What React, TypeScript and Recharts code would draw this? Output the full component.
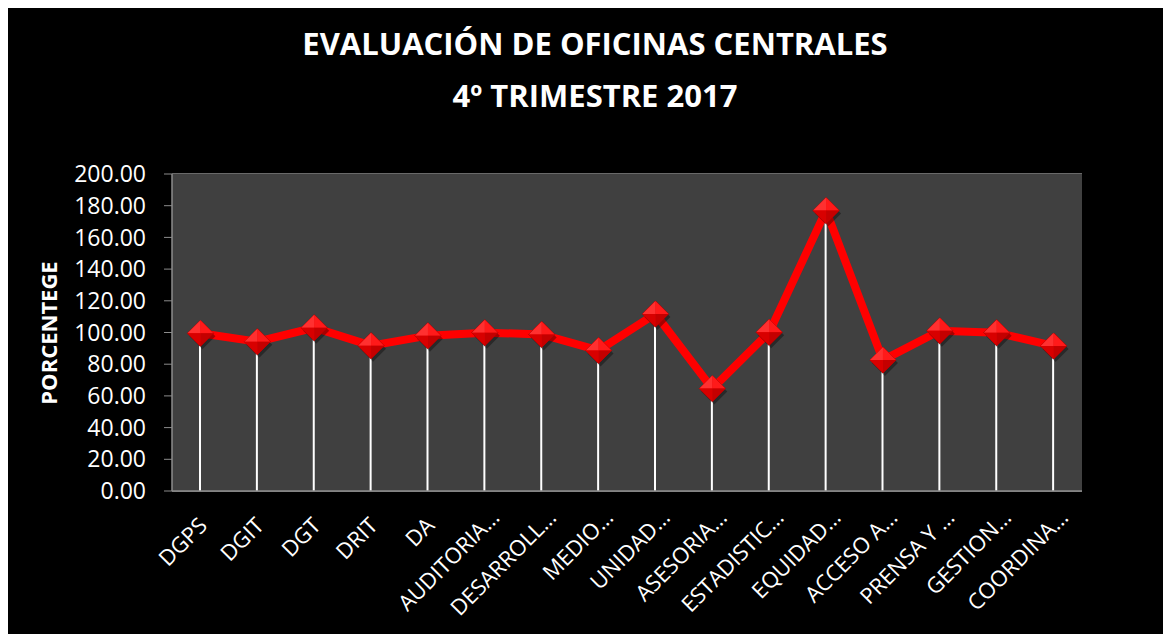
import { ComposedChart, Line, Bar, XAxis, YAxis, CartesianGrid } from 'recharts';

const categories = [
  'DGPS', 'DGIT', 'DGT', 'DRIT', 'DA', 'AUDITORIA…', 'DESARROLL…', 'MEDIO…',
  'UNIDAD…', 'ASESORIA…', 'ESTADISTIC…', 'EQUIDAD…', 'ACCESO A…', 'PRENSA Y …', 'GESTION…', 'COORDINA…',
];
const scores = [99.5, 94.2, 103, 91.7, 98, 99.9, 98.8, 88.7, 111.7, 64.6, 100.1, 176.9, 82.6, 101.1, 99.9, 91.5];
const yTicks = [0, 20, 40, 60, 80, 100, 120, 140, 160, 180, 200];

const FONT = '"Open Sans", "Noto Sans", sans-serif';

const data = categories.map((name, i) => ({ name, value: scores[i] }));

function Diamond(props: any) {
  const { cx, cy } = props;
  if (cx == null || cy == null) return null;
  const r = 13;
  return (
    <g>
      <polygon points={`${cx + 2},${cy - r + 3} ${cx + r + 2},${cy + 3} ${cx + 2},${cy + r + 3} ${cx - r + 2},${cy + 3}`} fill="rgba(0,0,0,0.35)" />
      <polygon points={`${cx},${cy - r} ${cx + r},${cy} ${cx},${cy + r} ${cx - r},${cy}`} fill="#e00000" stroke="#b00000" strokeWidth={1} />
      <polygon points={`${cx},${cy - r} ${cx + r},${cy} ${cx},${cy} `} fill="#ff1a1a" />
      <polygon points={`${cx},${cy - r} ${cx - r},${cy} ${cx},${cy}`} fill="#ff3030" />
      <polygon points={`${cx - r},${cy} ${cx},${cy + r} ${cx},${cy}`} fill="#d80000" />
      <polygon points={`${cx + r},${cy} ${cx},${cy + r} ${cx},${cy}`} fill="#c40000" />
    </g>
  );
}

function CategoryTick(props: any) {
  const { x, y, payload } = props;
  // truncated labels sit a bit further along the slant in the original
  const shift = String(payload.value).endsWith('…') ? 10 : 2;
  const ax = x + 6 + shift;
  const ay = y + 30 - shift;
  return (
    <text x={ax} y={ay} transform={`rotate(-45, ${ax}, ${ay})`} textAnchor="end" fill="#ffffff" fontSize={22} fontFamily={FONT}>
      {payload.value}
    </text>
  );
}

export default function App() {
  return (
    <div style={{ position: 'relative', width: 1165, height: 629, background: '#000', margin: '-3px 0 0 -2px' }}>
      <div style={{ position: 'absolute', left: 0, top: 12, width: 1178, textAlign: 'center', color: '#fff', fontFamily: FONT, fontWeight: 700, fontSize: 31, lineHeight: '52px' }}>
        <div>EVALUACIÓN DE OFICINAS CENTRALES</div>
        <div>4º TRIMESTRE 2017</div>
      </div>
      <div style={{ position: 'absolute', left: 42, top: 328, width: 0, height: 0 }}>
        <div style={{ position: 'absolute', transform: 'translate(-50%, -50%) rotate(-90deg)', whiteSpace: 'nowrap', color: '#fff', fontFamily: FONT, fontWeight: 700, fontSize: 22 }}>
          PORCENTEGE
        </div>
      </div>
      <ComposedChart width={1165} height={629} data={data} margin={{ top: 169, right: 89, bottom: 0, left: 86 }}>
        <rect x={166} y={169} width={910} height={317} fill="#404040" />
        <CartesianGrid vertical={false} stroke="#8c8c8c" strokeWidth={1.5} fill="#404040" />
        <XAxis
          dataKey="name"
          interval={0}
          height={143}
          tick={<CategoryTick />}
          tickLine={false}
          axisLine={{ stroke: '#8c8c8c', strokeWidth: 1.5 }}
        />
        <YAxis
          width={80}
          domain={[0, 200]}
          ticks={yTicks}
          tickFormatter={(v: number) => v.toFixed(2)}
          tick={{ fill: '#ffffff', fontSize: 23, fontFamily: FONT }}
          tickSize={8}
          tickMargin={18}
          tickLine={{ stroke: '#8c8c8c' }}
          axisLine={{ stroke: '#8c8c8c', strokeWidth: 1.5 }}
        />
        <Bar dataKey="value" barSize={2} fill="#ffffff" isAnimationActive={false} />
        <Line
          dataKey="value"
          stroke="#ff0000"
          strokeWidth={8}
          strokeLinejoin="miter"
          dot={<Diamond />}
          activeDot={false}
          isAnimationActive={false}
        />
      </ComposedChart>
    </div>
  );
}
